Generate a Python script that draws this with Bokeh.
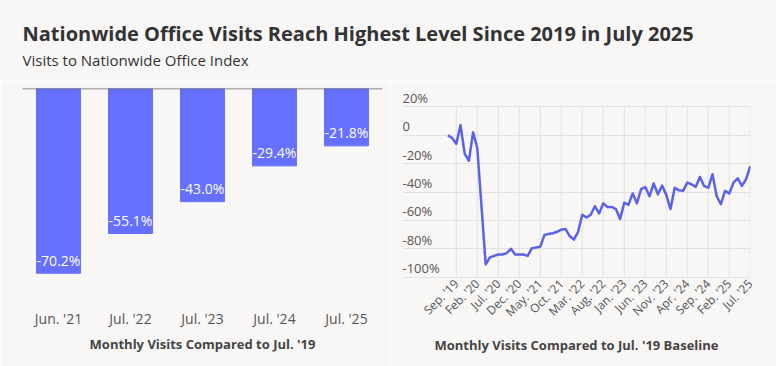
from math import pi
import pandas as pd
from bokeh.plotting import figure
from bokeh.layouts import column, row
from bokeh.models import Range1d, FactorRange, FixedTicker, Label, Span, ColumnDataSource, Grid
from bokeh.core.properties import value
from bokeh.embed import file_html
from bokeh.resources import INLINE

# ---------------- data ----------------
title_text = "Nationwide Office Visits Reach Highest Level Since 2019 in July 2025"
subtitle_text = "Visits to Nationwide Office Index"

bar_categories = ["Jun. '21", "Jul. '22", "Jul. '23", "Jul. '24", "Jul. '25"]
bar_values = [-70.2, -55.1, -43.0, -29.4, -21.8]
bar_axis_title = "Monthly Visits Compared to Jul. '19"

line_start = "2019-07-01"
line_values = [
    0, -2, -6, 7, -13, -18, 2, -9, -50, -91,
    -86, -85, -84, -84, -83, -80, -84, -84, -84, -85,
    -79.5, -79, -78.5, -70.2, -69.5, -69, -68, -66.5, -66, -71,
    -73.5, -68, -56, -58, -56, -50, -55.1, -48, -50.5, -50.5,
    -52, -59, -47.5, -49, -41, -48, -38, -36.5, -43.0, -34,
    -41.6, -35.5, -42, -52, -37, -38.8, -39.2, -33.4, -34.5, -36.4,
    -29.4, -35.7, -37, -27.5, -43, -48.6, -39.2, -41, -33.4, -30.3,
    -35.7, -31, -21.8,
]
line_tick_labels = ["Sep. '19", "Feb. '20", "Jul. '20", "Dec. '20", "May. '21",
                    "Oct. '21", "Mar. '22", "Aug. '22", "Jan. '23", "Jun. '23",
                    "Nov. '23", "Apr. '24", "Sep. '24", "Feb. '25", "Jul. '25"]
y_tick_values = [20, 0, -20, -40, -60, -80, -100]
y_tick_labels = ["20%", "0", "-20%", "-40%", "-60%", "-80%", "-100%"]
line_axis_title = "Monthly Visits Compared to Jul. '19 Baseline"

# ---------------- style ----------------
FONT = "Open Sans"
BG = "#f8f7f6"
BAR = "#6670ff"
LINE = "#5a62e8"
GRID = "#e4e2e0"
TITLE_C = "#333333"
TICK_C = "#555555"
AXT_C = "#444444"

# ---------------- header ----------------
p0 = figure(width=776, height=80, x_range=Range1d(0, 776), y_range=Range1d(80, 0),
            toolbar_location=None, output_backend="svg",
            x_axis_location=None, y_axis_location=None, min_border=0,
            background_fill_color=BG, border_fill_color=BG, outline_line_color=None)
p0.grid.visible = False
p0.add_layout(Label(x=22, y=33, text=title_text, text_font=FONT, text_font_size="20px",
                    text_font_style="bold", text_color=TITLE_C, text_baseline="middle"))
p0.add_layout(Label(x=22, y=59, text=subtitle_text, text_font=FONT, text_font_size="15px",
                    text_color=TITLE_C, text_baseline="middle"))

# ---------------- bar chart ----------------
p1 = figure(width=390, height=286, x_range=FactorRange(*bar_categories),
            y_range=Range1d(-72.2, 0), y_axis_location=None,
            toolbar_location=None, output_backend="svg",
            min_border_left=22, min_border_right=8, min_border_top=8, min_border_bottom=88,
            background_fill_color=BG, border_fill_color=BG, outline_line_color=None)
p1.grid.visible = False
src = ColumnDataSource(dict(cat=bar_categories, val=bar_values,
                            lab=[f"{v:.1f}%" for v in bar_values]))
p1.vbar(x="cat", top=0, bottom="val", width=0.61, color=BAR, source=src)
p1.text(x="cat", y="val", text="lab", text_align="center", text_baseline="middle",
        y_offset=-13, text_color="white", text_font=value(FONT), text_font_size="14px",
        source=src)
p1.add_layout(Span(location=0, dimension="width", line_color="#666666", line_width=1.5))
ax = p1.xaxis[0]
ax.axis_line_color = None
ax.major_tick_line_color = None
ax.minor_tick_line_color = None
ax.major_tick_out = 0
ax.major_tick_in = 0
ax.major_label_text_font = FONT
ax.major_label_text_font_size = "14px"
ax.major_label_text_color = TICK_C
ax.major_label_standoff = 30
ax.axis_label = bar_axis_title
ax.axis_label_text_font = FONT
ax.axis_label_text_font_size = "13px"
ax.axis_label_text_font_style = "bold"
ax.axis_label_text_color = AXT_C
ax.axis_label_standoff = 4

# ---------------- line chart ----------------
months = pd.date_range(line_start, periods=len(line_values), freq="MS")
month_labels = [f"{d.strftime('%b')}. '{d.strftime('%y')}" for d in months]
month_idx = list(range(len(line_values)))
tick_positions = [month_labels.index(t) for t in line_tick_labels]

p2 = figure(width=386, height=286, x_range=Range1d(-10.81, 72.05),
            y_range=Range1d(-100.9, 32.9), y_axis_location=None,
            toolbar_location=None, output_backend="svg",
            min_border_left=12, min_border_right=26, min_border_top=8, min_border_bottom=88,
            background_fill_color=BG, border_fill_color=BG, outline_line_color=None)
p2.grid.visible = False
p2.add_layout(Grid(dimension=1, ticker=FixedTicker(ticks=y_tick_values),
                   grid_line_color=GRID, grid_line_width=1))
p2.segment(x0=tick_positions, x1=tick_positions,
           y0=[min(y_tick_values)] * len(tick_positions),
           y1=[max(y_tick_values)] * len(tick_positions),
           line_color=GRID, line_width=1)
p2.text(x=[p2.x_range.start] * len(y_tick_values), y=y_tick_values, text=y_tick_labels,
        text_align="left", text_baseline="middle", y_offset=-9,
        text_color=TICK_C, text_font=value(FONT), text_font_size="13px")
p2.line(x=month_idx, y=line_values, line_color=LINE, line_width=2.5, line_join="round")

bx = p2.xaxis[0]
bx.ticker = FixedTicker(ticks=tick_positions)
bx.major_label_overrides = {pos: lab for pos, lab in zip(tick_positions, line_tick_labels)}
bx.major_label_orientation = pi / 4
bx.axis_line_color = None
bx.major_tick_line_color = None
bx.minor_tick_line_color = None
bx.major_tick_out = 0
bx.major_tick_in = 0
bx.major_label_text_font = FONT
bx.major_label_text_font_size = "12px"
bx.major_label_text_color = TICK_C
bx.major_label_standoff = 3
bx.axis_label = line_axis_title
bx.axis_label_text_font = FONT
bx.axis_label_text_font_size = "13px"
bx.axis_label_text_font_style = "bold"
bx.axis_label_text_color = AXT_C
bx.axis_label_standoff = 7

layout = column(p0, row(p1, p2))
open("out.html", "w").write(file_html(layout, INLINE))
